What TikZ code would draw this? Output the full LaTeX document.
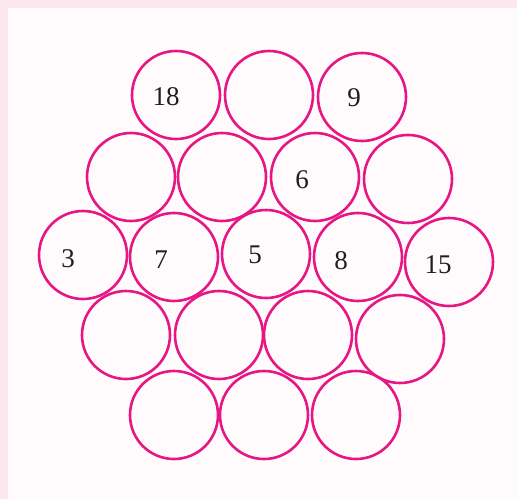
\documentclass[tikz,border=0pt]{standalone}
\usepackage{fontspec}
\setmainfont{Liberation Serif}
\definecolor{bandpink}{RGB}{252,230,240}
\definecolor{innerbg}{RGB}{255,251,253}
\definecolor{ringpink}{RGB}{230,22,132}
\definecolor{numcol}{RGB}{30,30,30}
\tikzset{
  ring/.style={circle, draw=ringpink, line width=2.6pt, minimum size=88pt, inner sep=0pt},
  num/.style={font=\fontsize{27}{27}\selectfont, text=numcol, inner sep=0pt}
}
\begin{document}
\begin{tikzpicture}[x=1pt,y=-1pt]
\fill[bandpink] (0,0) rectangle (517,499);
\fill[innerbg] (8,8) rectangle (517,499);
\useasboundingbox (0,0) rectangle (517,499);
% row 1
\node[ring] (r1a) at (176,95) {};
\node[ring] (r1b) at (269,95) {};
\node[ring] (r1c) at (362,97) {};
% row 2
\node[ring] (r2a) at (131,177) {};
\node[ring] (r2b) at (222,177) {};
\node[ring] (r2c) at (315,177) {};
\node[ring] (r2d) at (408,179) {};
% row 3
\node[ring] (r3a) at (83,255) {};
\node[ring] (r3b) at (174,257) {};
\node[ring] (r3c) at (266,254) {};
\node[ring] (r3d) at (358,257) {};
\node[ring] (r3e) at (449,262) {};
% row 4
\node[ring] (r4a) at (126,335) {};
\node[ring] (r4b) at (219,335) {};
\node[ring] (r4c) at (308,335) {};
\node[ring] (r4d) at (400,339) {};
% row 5
\node[ring] (r5a) at (174,415) {};
\node[ring] (r5b) at (264,415) {};
\node[ring] (r5c) at (356,415) {};
% numbers
\node[num] (n18) at (166,97) {18};
\node[num] (n9) at (354,98) {9};
\node[num] (n6) at (302,180) {6};
\node[num] (n3) at (68,259) {3};
\node[num] (n7) at (161,260) {7};
\node[num] (n5) at (255,255) {5};
\node[num] (n8) at (341,261) {8};
\node[num] (n15) at (438,265) {15};
\end{tikzpicture}
\end{document}
